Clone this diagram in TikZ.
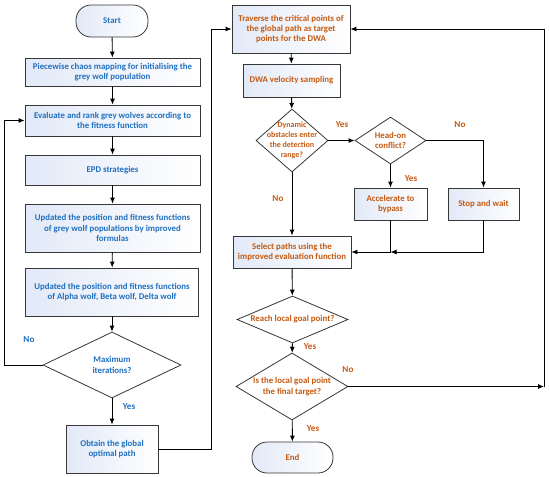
\documentclass[tikz,border=0pt]{standalone}
\usepackage{fontspec}
\setmainfont{Carlito}
\usepackage{tikz}
\usetikzlibrary{arrows,arrows.meta,shapes.geometric}

\definecolor{bluetxt}{RGB}{31,112,192}
\definecolor{orangetxt}{RGB}{197,90,17}
\definecolor{boxblue}{RGB}{226,233,247}
\definecolor{boxline}{RGB}{55,55,55}

\begin{document}
\begin{tikzpicture}[
  x=1pt, y=-1pt,
  proc/.style={draw=boxline,line width=0.8pt,rectangle,left color=boxblue,right color=white,
    align=center,inner sep=1pt,font=\fontsize{8.8}{10.4}\selectfont\bfseries},
  term/.style={proc,rounded corners=15pt},
  dec/.style={draw=boxline,line width=0.8pt,diamond,fill=white,align=center,inner sep=-2pt,
    font=\fontsize{8.8}{10.4}\selectfont\bfseries},
  lbl/.style={font=\fontsize{9.2}{10.5}\selectfont\bfseries},
  arr/.style={-{Latex[length=6pt,width=5pt]},line width=0.9pt}
]
  \useasboundingbox (0,0) rectangle (550,477);

  % global planner (grey wolf)
  \node[term,text=bluetxt,minimum width=72pt,minimum height=32pt] (start) at (112,21) {Start};
  \node[proc,text=bluetxt,minimum width=175pt,minimum height=28pt] (gw1) at (112.5,72)
    {Piecewise chaos mapping for initialising the\\grey wolf population};
  \node[proc,text=bluetxt,minimum width=175pt,minimum height=31pt] (gw2) at (112.5,120.5)
    {Evaluate and rank grey wolves according to\\the fitness function};
  \node[proc,text=bluetxt,minimum width=175pt,minimum height=30pt] (gw3) at (112.5,170) {EPD strategies};
  \node[proc,text=bluetxt,minimum width=175pt,minimum height=48pt] (gw4) at (112.5,228)
    {Updated the position and fitness functions\\of grey wolf populations by improved\\formulas};
  \node[proc,text=bluetxt,minimum width=173pt,minimum height=48pt] (gw5) at (112,292)
    {Updated the position and fitness functions\\of Alpha wolf, Beta wolf, Delta wolf};
  \node[dec,text=bluetxt,shape aspect=2.09,minimum width=138pt,minimum height=66pt] (dmax) at (112,365)
    {Maximum\\iterations?};
  \node[proc,text=bluetxt,minimum width=92pt,minimum height=48pt] (gw6) at (112,449)
    {Obtain the global\\optimal path};

  % local planner (DWA)
  \node[proc,text=orangetxt,minimum width=118pt,minimum height=48pt] (dw1) at (291,29)
    {Traverse the critical points of\\the global path as target\\points for the DWA};
  \node[proc,text=orangetxt,minimum width=97pt,minimum height=33pt] (dw2) at (291.5,80.5)
    {DWA velocity sampling};
  \node[dec,text=orangetxt,inner sep=-12pt,shape aspect=1.14,minimum width=72pt,minimum height=63pt,
    font=\fontsize{8}{9.8}\selectfont\bfseries] (dobs) at (292,140.5)
    {Dynamic\\obstacles enter\\the detection\\range?};
  \node[dec,text=orangetxt,shape aspect=1.51,minimum width=71pt,minimum height=47pt] (dhead) at (390.5,140.5)
    {Head-on\\conflict?};
  \node[proc,text=orangetxt,minimum width=73pt,minimum height=32pt] (dw3) at (390.5,204)
    {Accelerate to\\bypass};
  \node[proc,text=orangetxt,minimum width=71pt,minimum height=32pt] (dw4) at (483.5,204)
    {Stop and wait};
  \node[proc,text=orangetxt,minimum width=118pt,minimum height=32pt] (dw5) at (292,252)
    {Select paths using the\\improved evaluation function};
  \node[dec,text=orangetxt,inner sep=-4pt,shape aspect=2.36,minimum width=111pt,minimum height=47pt] (dreach) at (292.5,319.5)
    {Reach local goal point?};
  \node[dec,text=orangetxt,inner sep=-5pt,shape aspect=1.67,minimum width=112pt,minimum height=67pt] (dfinal) at (292,386.5)
    {Is the local goal point\\the final target?};
  \node[term,text=orangetxt,minimum width=81pt,minimum height=31pt] (end) at (292.5,457.5) {End};

  % bends
  \coordinate (lback) at (4,365);
  \coordinate (gpath) at (211,449);
  \coordinate (fback) at (544,386.5);

  % left edges
  \draw[arr] (start) -- (gw1);
  \draw[arr] (gw1) -- (gw2);
  \draw[arr] (gw2) -- (gw3);
  \draw[arr] (gw3) -- (gw4);
  \draw[arr] (gw4) -- (gw5);
  \draw[arr] (gw5) -- (dmax);
  \draw[arr] (dmax) -- (gw6);
  \draw[arr] (dmax.west) -- (lback) |- (gw2.west);
  \draw[arr] (gw6.east) -- (gpath) |- (dw1.west);

  % right edges
  \draw[arr] (dw1) -- (dw2);
  \draw[arr] (dw2) -- (dobs);
  \draw[arr] (dobs.east) -- (dhead.west);
  \draw[arr] (dhead) -- (dw3);
  \draw[arr] (dhead.east) -| (dw4.north);
  \draw[arr] (dobs) -- (dw5);
  \draw[arr] (dw3.south) |- (dw5.east);
  \draw[arr] (dw4.south) |- (dw3.south |- dw5.east);
  \draw[arr] (dw5) -- (dreach);
  \draw[arr] (dreach) -- (dfinal);
  \draw[arr] (dfinal) -- (end);
  \draw[arr] (dfinal.east) -- (fback);
  \draw[arr] (fback) |- (dw1.east);

  % labels
  \node[lbl,text=bluetxt] (lno1) at (29,340) {No};
  \node[lbl,text=bluetxt] (lyes1) at (129,407) {Yes};
  \node[lbl,text=orangetxt] (lyes2) at (342,125) {Yes};
  \node[lbl,text=orangetxt] (lno2) at (460,125) {No};
  \node[lbl,text=orangetxt] (lyes3) at (411,179) {Yes};
  \node[lbl,text=orangetxt] (lno3) at (278,199) {No};
  \node[lbl,text=orangetxt] (lyes4) at (310,347) {Yes};
  \node[lbl,text=orangetxt] (lno4) at (348,370) {No};
  \node[lbl,text=orangetxt] (lyes5) at (313,429) {Yes};

\end{tikzpicture}
\end{document}
